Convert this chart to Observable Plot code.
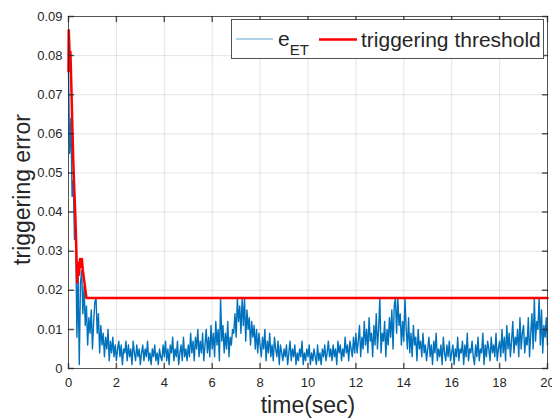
<!DOCTYPE html>
<html><head><meta charset="utf-8">
<script src="https://cdn.jsdelivr.net/npm/d3@7"></script>
<script src="https://cdn.jsdelivr.net/npm/@observablehq/plot@0.6"></script>
<style>
body{margin:0;background:#fff;}
#wrap{position:relative;width:552px;height:418px;font-family:Arial,"Liberation Sans",Helvetica,sans-serif;}
#legend{position:absolute;left:231px;top:19px;}
</style></head>
<body><div id="wrap"></div>
<script>
// ---- data ----
const xTicks = [0, 2, 4, 6, 8, 10, 12, 14, 16, 18, 20];
const yTicks = [0, 0.01, 0.02, 0.03, 0.04, 0.05, 0.06, 0.07, 0.08, 0.09];
const seriesNames = ["e", "ET", "triggering threshold"]; // e with subscript ET
const xLabel = "time(sec)";
const yLabel = "triggering error";

// e_ET sampled every 0.05 s, values in units of 1e-3
const sampleStep = 0.05;
const eET_milli = [
 76,55,64,44,48,33,36,8,24,1,22,25,14,21,11,16,6,13,9,15,
 5,12,17,18,9,14,4,11,6,9,3,8,5,10,2,7,4,8,3,6,
 2,5,7,3,6,1,5,4,7,2,6,3,5,1,7,4,2,6,3,5,
 1,4,6,2,5,3,7,2,4,1,5,3,6,2,4,1,5,3,2,6,
 3,7,2,5,1,6,4,8,2,5,3,7,1,4,6,2,8,3,5,2,
 6,3,9,4,7,2,8,5,10,3,7,4,9,2,6,10,4,8,3,11,
 5,9,3,12,6,10,2,18,7,11,4,9,5,12,3,8,6,10,9,14,
 8,18,12,16,9,18,11,18,7,15,10,13,6,12,8,11,5,10,4,9,
 6,3,8,5,10,2,7,4,9,3,6,2,8,5,3,7,1,6,4,2,
 5,3,6,1,4,7,2,5,3,6,1,4,2,5,3,7,1,4,2,5,
 3,6,1,4,2,5,3,1,6,2,4,1,5,3,6,2,4,7,3,5,
 2,6,3,5,1,7,4,6,2,5,3,8,4,6,2,7,5,3,8,4,
 9,4,7,11,3,8,5,12,6,10,4,13,7,9,3,11,6,14,5,10,
 18,4,9,7,12,3,10,6,13,8,15,5,16,18,9,18,11,14,6,12,
 7,18,10,5,13,4,9,3,11,6,8,2,10,5,7,3,9,4,6,2,
 5,8,3,6,1,7,4,9,2,5,3,6,1,8,4,2,6,3,7,2,
 4,6,1,5,3,8,2,5,4,7,1,6,3,9,2,5,4,7,3,1,
 6,3,8,2,5,4,9,1,6,3,7,5,2,8,4,6,3,9,2,5,
 7,3,10,4,8,2,11,5,9,3,7,12,4,8,6,10,3,13,5,9,
 11,4,8,6,13,3,9,14,5,18,7,12,10,18,6,15,4,11,8,13,
 6
];

// triggering threshold (values in units of 1e-3)
const thrTime  = [0, 0.01, 0.05, 0.08, 0.12, 0.16, 0.2, 0.24, 0.28, 0.32, 0.36, 0.40, 0.44, 0.48, 0.52, 0.56, 0.6, 0.75, 20];
const thrMilli = [76, 86.5, 80, 81, 72, 62, 53, 46, 40, 32, 22, 27, 24, 28, 26, 28, 25, 18, 18];

// ---- tables ----
const eData = eET_milli.map((v, i) => ({t: i * sampleStep, v: v / 1000}));
const thrData = thrTime.map((t, i) => ({t, v: thrMilli[i] / 1000}));

const axisColor = "#262626";
const tickShape = {draw(ctx, l) { ctx.moveTo(0, 0); ctx.lineTo(0, -l); }};
const font = "Arial, 'Liberation Sans', Helvetica, sans-serif";

const chart = Plot.plot({
  width: 552,
  height: 418,
  marginLeft: 68,
  marginRight: 5,
  marginTop: 16,
  marginBottom: 50,
  style: {fontFamily: font, color: axisColor, background: "#fff"},
  x: {domain: [0, 20]},
  y: {domain: [0, 0.09]},
  marks: [
    Plot.gridX(xTicks, {stroke: axisColor, strokeOpacity: 0.13}),
    Plot.gridY(yTicks, {stroke: axisColor, strokeOpacity: 0.13}),
    Plot.line(eData, {x: "t", y: "v", stroke: "#0072BD", strokeWidth: 1.4}),
    Plot.line(thrData, {x: "t", y: "v", stroke: "#FF0000", strokeWidth: 2.5}),
    Plot.frame({stroke: axisColor, strokeOpacity: 0.75}),
    Plot.vector(xTicks, {x: d => d, y: 0, length: 5, rotate: 0, anchor: "start", shape: tickShape, stroke: axisColor, strokeOpacity: 0.75}),
    Plot.vector(xTicks, {x: d => d, y: 0.09, length: 5, rotate: 180, anchor: "start", shape: tickShape, stroke: axisColor, strokeOpacity: 0.75}),
    Plot.vector(yTicks, {x: 0, y: d => d, length: 5, rotate: 90, anchor: "start", shape: tickShape, stroke: axisColor, strokeOpacity: 0.75}),
    Plot.vector(yTicks, {x: 20, y: d => d, length: 5, rotate: -90, anchor: "start", shape: tickShape, stroke: axisColor, strokeOpacity: 0.75}),
    Plot.axisX({ticks: xTicks, tickSize: 0, tickPadding: 9, fontSize: 13, label: null}),
    Plot.axisY({ticks: yTicks, tickSize: 0, tickPadding: 6, fontSize: 13, label: null,
      tickFormat: d => d === 0 ? "0" : d.toFixed(2)}),
    Plot.text([xLabel], {frameAnchor: "bottom", textAnchor: "middle", lineAnchor: "middle", dy: 37, fontSize: 23, fill: axisColor}),
    Plot.text([yLabel], {frameAnchor: "left", textAnchor: "middle", lineAnchor: "middle", rotate: -90, dx: -46, dy: -3, fontSize: 23, fill: axisColor})
  ]
});
const wrap = document.getElementById("wrap");
wrap.appendChild(chart);

// legend (MATLAB-style box, top right)
const ns = "http://www.w3.org/2000/svg";
const lg = document.createElementNS(ns, "svg");
lg.setAttribute("id", "legend");
lg.setAttribute("width", 314);
lg.setAttribute("height", 41);
lg.innerHTML = `
 <rect x="0.5" y="0.5" width="312" height="39" fill="#fff" stroke="${axisColor}" stroke-opacity="0.8" stroke-width="1"/>
 <line x1="5" x2="42" y1="20" y2="20" stroke="#0072BD" stroke-opacity="0.65" stroke-width="1.2"/>
 <text x="47" y="26.5" font-size="21" font-family="${font}" fill="${axisColor}">${seriesNames[0]}<tspan font-size="15" dy="9">${seriesNames[1]}</tspan></text>
 <line x1="88" x2="126" y1="20.5" y2="20.5" stroke="#FF0000" stroke-width="2.5"/>
 <text x="130" y="28" font-size="21" font-family="${font}" fill="${axisColor}">${seriesNames[2]}</text>`;
wrap.appendChild(lg);
</script>
</body></html>
